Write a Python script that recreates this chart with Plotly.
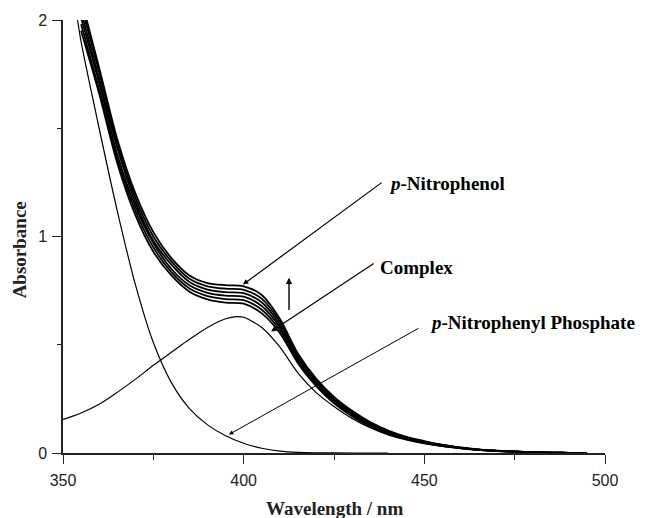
import plotly.graph_objects as go

# ---------------- data ----------------
# p-Nitrophenyl phosphate (thin, steep curve)
wl_pnpp = [352, 354, 355, 360, 365, 370, 375, 380, 385, 390, 395, 400, 405, 410, 415, 420, 430, 440]
abs_pnpp = [2.15, 2.0, 1.9, 1.5, 1.12, 0.78, 0.51, 0.325, 0.205, 0.13, 0.08, 0.045, 0.022, 0.009, 0.003, 0.001, 0.0, 0.0]

# Complex (thin curve with maximum near 398 nm)
wl_cplx = [350, 355, 360, 365, 370, 375, 380, 385, 390, 395, 398, 400, 405, 410, 415, 420, 425, 430, 435, 440, 445, 450, 460, 470, 480, 490, 495]
abs_cplx = [0.155, 0.185, 0.225, 0.28, 0.34, 0.405, 0.465, 0.525, 0.58, 0.62, 0.63, 0.627, 0.58, 0.49, 0.37, 0.28, 0.215, 0.16, 0.117, 0.084, 0.06, 0.043, 0.021, 0.009, 0.003, 0.001, 0.0]

# p-Nitrophenol growth: six spectra (bundle)
wl_pnp = [355, 360, 365, 370, 375, 380, 385, 390, 395, 400, 405, 410, 415, 420, 425, 430, 435, 440, 445, 450, 455, 460, 465, 470, 475, 480, 485, 490, 495]
pnp_1 = [1.95, 1.66, 1.34, 1.10, 0.93, 0.82, 0.745, 0.71, 0.695, 0.69, 0.645, 0.555, 0.415, 0.31, 0.23, 0.17, 0.123, 0.089, 0.064, 0.046, 0.032, 0.022, 0.014, 0.009, 0.006, 0.003, 0.002, 0.001, 0.0]
pnp_2 = [1.98, 1.68, 1.36, 1.12, 0.95, 0.835, 0.76, 0.725, 0.711, 0.706, 0.662, 0.568, 0.424, 0.317, 0.235, 0.175, 0.127, 0.092, 0.066, 0.047, 0.033, 0.023, 0.015, 0.009, 0.006, 0.003, 0.002, 0.001, 0.0]
pnp_3 = [2.01, 1.71, 1.38, 1.14, 0.97, 0.85, 0.775, 0.74, 0.727, 0.722, 0.679, 0.581, 0.433, 0.324, 0.241, 0.18, 0.131, 0.095, 0.068, 0.049, 0.034, 0.024, 0.015, 0.010, 0.006, 0.004, 0.002, 0.001, 0.0]
pnp_4 = [2.04, 1.73, 1.41, 1.16, 0.98, 0.87, 0.79, 0.755, 0.743, 0.738, 0.696, 0.594, 0.442, 0.331, 0.247, 0.185, 0.135, 0.098, 0.070, 0.051, 0.036, 0.024, 0.016, 0.010, 0.007, 0.004, 0.002, 0.001, 0.0]
pnp_5 = [2.07, 1.76, 1.43, 1.18, 1.00, 0.885, 0.805, 0.77, 0.759, 0.754, 0.713, 0.607, 0.451, 0.338, 0.253, 0.19, 0.139, 0.101, 0.072, 0.053, 0.037, 0.025, 0.016, 0.011, 0.007, 0.004, 0.002, 0.001, 0.0]
pnp_6 = [2.10, 1.78, 1.45, 1.20, 1.02, 0.90, 0.82, 0.785, 0.775, 0.77, 0.73, 0.62, 0.46, 0.345, 0.259, 0.195, 0.143, 0.104, 0.075, 0.055, 0.038, 0.026, 0.017, 0.011, 0.007, 0.004, 0.002, 0.001, 0.0]
pnp_series = [pnp_1, pnp_2, pnp_3, pnp_4, pnp_5, pnp_6]

x_ticks = [350, 400, 450, 500]
y_ticks = [0, 1, 2]

# ---------------- figure ----------------
fig = go.Figure()

fig.add_trace(go.Scatter(x=wl_pnpp, y=abs_pnpp, mode="lines",
                         line=dict(color="black", width=1.2, shape="spline", smoothing=0.8),
                         showlegend=False, hoverinfo="skip"))
fig.add_trace(go.Scatter(x=wl_cplx, y=abs_cplx, mode="lines",
                         line=dict(color="black", width=1.2, shape="spline", smoothing=0.8),
                         showlegend=False, hoverinfo="skip"))
for s in pnp_series:
    fig.add_trace(go.Scatter(x=wl_pnp, y=s, mode="lines",
                             line=dict(color="black", width=1.8, shape="spline", smoothing=0.8),
                             showlegend=False, hoverinfo="skip"))

serif = "Liberation Serif, Times New Roman, serif"
lab_font = dict(family=serif, size=19, color="black")

annotations = [
    # labels
    dict(x=439.7, y=1.245, xref="x", yref="y", text="<b><i>p</i>-Nitrophenol</b>",
         showarrow=False, xanchor="left", yanchor="middle", font=lab_font),
    dict(x=437.2, y=0.857, xref="x", yref="y", text="<b>Complex</b>",
         showarrow=False, xanchor="left", yanchor="middle", font=lab_font),
    dict(x=451.0, y=0.603, xref="x", yref="y", text="<b><i>p</i>-Nitrophenyl Phosphate</b>",
         showarrow=False, xanchor="left", yanchor="middle", font=lab_font),
    # arrows
    dict(x=399.8, y=0.778, ax=438.6, ay=1.254, xref="x", yref="y", axref="x", ayref="y",
         text="", showarrow=True, arrowhead=2, arrowsize=0.9, arrowwidth=1.2, arrowcolor="black"),
    dict(x=407.6, y=0.561, ax=436.4, ay=0.88, xref="x", yref="y", axref="x", ayref="y",
         text="", showarrow=True, arrowhead=2, arrowsize=0.9, arrowwidth=1.2, arrowcolor="black"),
    dict(x=395.9, y=0.085, ax=448.8, ay=0.58, xref="x", yref="y", axref="x", ayref="y",
         text="", showarrow=True, arrowhead=2, arrowsize=0.9, arrowwidth=1.0, arrowcolor="black"),
    dict(x=412.55, y=0.81, ax=412.55, ay=0.654, xref="x", yref="y", axref="x", ayref="y",
         text="", showarrow=True, arrowhead=2, arrowsize=0.9, arrowwidth=1.4, arrowcolor="black"),
    # axis titles
    dict(x=0.5, y=0, xref="paper", yref="paper", text="<b>Wavelength / nm</b>",
         showarrow=False, xanchor="center", yanchor="middle", yshift=-55,
         font=dict(family=serif, size=19, color="#222")),
    dict(x=0, y=0.468, xref="paper", yref="paper", text="<b>Absorbance</b>", textangle=-90,
         showarrow=False, xanchor="center", yanchor="middle", xshift=-44,
         font=dict(family=serif, size=19, color="#222")),
]

tick_font = dict(family="Liberation Sans, Arial, sans-serif", size=16, color="#222")

fig.update_layout(
    width=655, height=518,
    margin=dict(l=63, r=50, t=20, b=65),
    paper_bgcolor="white", plot_bgcolor="white",
    annotations=annotations,
    showlegend=False,
)
fig.update_xaxes(
    range=[350, 500], tickvals=x_ticks, ticks="outside", ticklen=9, tickwidth=1.3,
    tickcolor="#222", showline=True, linecolor="#222", linewidth=1.5, showgrid=False,
    zeroline=False, tickfont=tick_font, ticklabelstandoff=3,
    minor=dict(tickvals=[375, 425, 475], ticks="outside", ticklen=5, tickwidth=1.3, tickcolor="#222"),
)
fig.update_yaxes(
    range=[0, 2], tickvals=y_ticks, ticks="outside", ticklen=9, tickwidth=1.3,
    tickcolor="#222", showline=True, linecolor="#222", linewidth=1.5, showgrid=False,
    zeroline=False, tickfont=tick_font, ticklabelstandoff=2,
    minor=dict(tickvals=[0.5, 1.5], ticks="outside", ticklen=4, tickwidth=1.3, tickcolor="#222"),
)

fig.write_html("out.html")
